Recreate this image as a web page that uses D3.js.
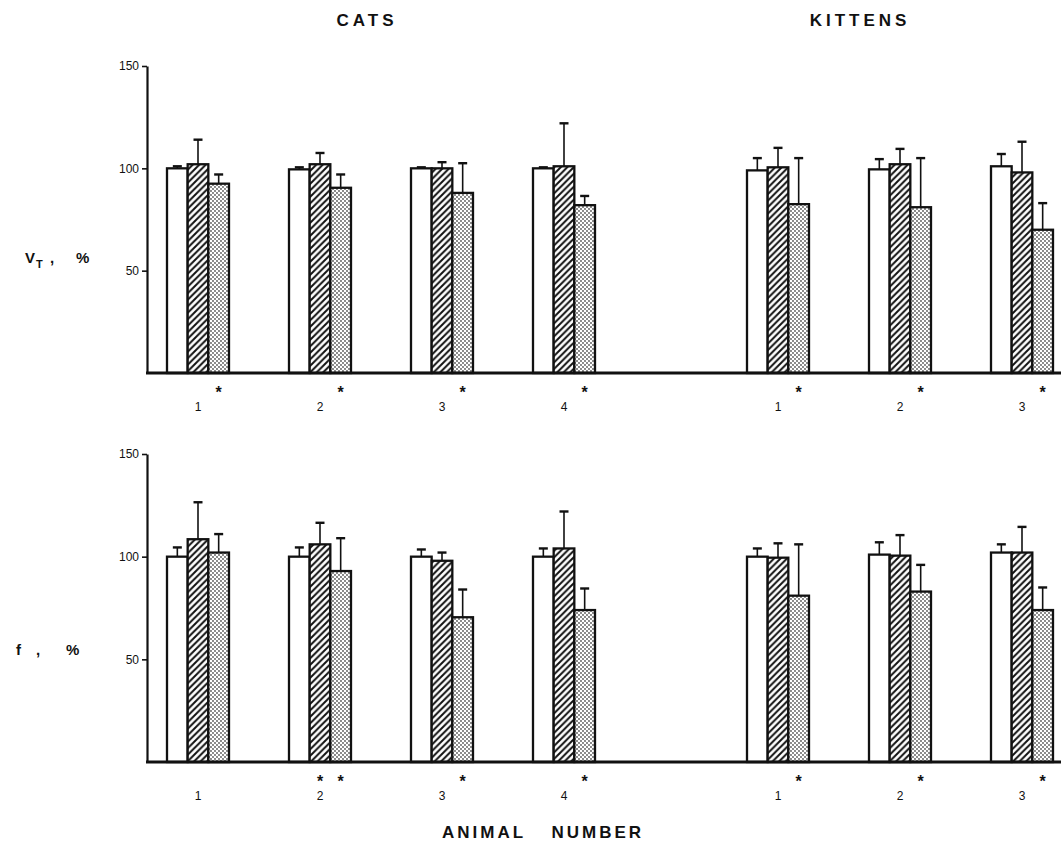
<!DOCTYPE html>
<html>
<head>
<meta charset="utf-8">
<script src="https://cdn.jsdelivr.net/npm/d3@7"></script>
<style>
  html, body { margin: 0; padding: 0; background: #fff; }
  svg { display: block; }
  text { font-family: "Liberation Sans", Arial, sans-serif; fill: #111; }
</style>
</head>
<body>
<svg id="chart" width="1061" height="868"></svg>
<script>
// ---------- data ----------
const catIds = ["1", "2", "3", "4"];
const kittenIds = ["1", "2", "3"];
const seriesKeys = ["control", "hatched", "dotted"];
const yTicks = [50, 100, 150];

// VT, % : mean values per animal [control, hatched, dotted]
const vtCatsMean = [[100, 102, 92.5], [99.5, 102, 90.5], [100, 100, 88], [100, 101, 82]];
const vtCatsErr  = [[1, 12, 4.5], [1, 5.5, 6.5], [0.5, 3, 14.5], [0.5, 21, 4.5]];
const vtKitMean  = [[99, 100.5, 82.5], [99.5, 102, 81], [101, 98, 70]];
const vtKitErr   = [[6, 9.5, 22.5], [5, 7.5, 24], [6, 15, 13]];
const vtCatsSig  = [[0, 0, 1], [0, 0, 1], [0, 0, 1], [0, 0, 1]];
const vtKitSig   = [[0, 0, 1], [0, 0, 1], [0, 0, 1]];

// f, %
const fCatsMean = [[100, 108.5, 102], [100, 106, 93], [100, 98, 70.5], [100, 104, 74]];
const fCatsErr  = [[4.5, 18, 9], [4.5, 10.5, 16], [3.5, 4, 13.5], [4, 18, 10.5]];
const fKitMean  = [[100, 99.5, 81], [101, 100.5, 83], [102, 102, 74]];
const fKitErr   = [[4, 7, 25], [6, 10, 13], [4, 12.5, 11]];
const fCatsSig  = [[0, 0, 0], [0, 1, 1], [0, 0, 1], [0, 0, 1]];
const fKitSig   = [[0, 0, 1], [0, 0, 1], [0, 0, 1]];

// ---------- setup ----------
const svg = d3.select("#chart");
const defs = svg.append("defs");

const hatch = defs.append("pattern").attr("id", "hatch")
  .attr("patternUnits", "userSpaceOnUse").attr("width", 6.5).attr("height", 6.5);
hatch.append("rect").attr("width", 6.5).attr("height", 6.5).attr("fill", "#fff");
hatch.append("path").attr("d", "M-1,1 L1,-1 M0,6.5 L6.5,0 M5.5,7.5 L7.5,5.5")
  .attr("stroke", "#111").attr("stroke-width", 2);

const dots = defs.append("pattern").attr("id", "dots")
  .attr("patternUnits", "userSpaceOnUse").attr("width", 4).attr("height", 4);
dots.append("rect").attr("width", 4).attr("height", 4).attr("fill", "#fff");
dots.append("circle").attr("cx", 1).attr("cy", 1).attr("r", 0.9).attr("fill", "#555");
dots.append("circle").attr("cx", 3).attr("cy", 3).attr("r", 0.9).attr("fill", "#555");

const fills = { control: "#fff", hatched: "url(#hatch)", dotted: "url(#dots)" };

const xCats = d3.scaleBand().domain(catIds).range([137, 625]);
const xKit = d3.scaleBand().domain(kittenIds).range([717, 1083]);
const xInner = d3.scaleBand().domain(seriesKeys).range([-31, 31]);

const axisX = 147;

function drawPanel(y0, y150, sets) {
  const y = d3.scaleLinear().domain([0, 150]).range([y0, y150]);
  const g = svg.append("g");

  // y axis
  const ya = g.append("g").attr("transform", `translate(${axisX},0)`)
    .call(d3.axisLeft(y).tickValues(yTicks).tickSize(5).tickSizeOuter(0).tickPadding(3));
  ya.select(".domain").attr("stroke", "#111").attr("stroke-width", 2.2);
  ya.selectAll(".tick line").attr("stroke", "#111").attr("stroke-width", 1.6);
  ya.selectAll(".tick text").attr("font-size", 12).attr("fill", "#222")
    .attr("font-family", "Liberation Sans, Arial, sans-serif");

  sets.forEach(({ x, ids, mean, err, sig }) => {
    ids.forEach((id, i) => {
      const cx = x(id) + x.bandwidth() / 2;
      seriesKeys.forEach((s, j) => {
        const v = mean[i][j], e = err[i][j];
        const bx = cx + xInner(s);
        const bw = xInner.bandwidth();
        const mid = bx + bw / 2;
        // error bar
        g.append("line").attr("x1", mid).attr("x2", mid)
          .attr("y1", y(v)).attr("y2", y(v + e))
          .attr("stroke", "#111").attr("stroke-width", 1.6);
        g.append("line").attr("x1", mid - 4.5).attr("x2", mid + 4.5)
          .attr("y1", y(v + e)).attr("y2", y(v + e))
          .attr("stroke", "#111").attr("stroke-width", 2.4);
        // bar
        g.append("rect").attr("x", bx).attr("width", bw)
          .attr("y", y(v)).attr("height", y(0) - y(v))
          .attr("fill", fills[s]).attr("stroke", "#111").attr("stroke-width", 2.3);
        if (sig[i][j]) {
          g.append("text").attr("x", mid).attr("y", y(0) + 25)
            .attr("text-anchor", "middle").attr("font-size", 16).attr("font-weight", "bold")
            .text("*");
        }
      });
    });
    // category labels
    const xa = g.append("g").attr("transform", `translate(0,${y(0)})`)
      .call(d3.axisBottom(x).tickSize(0).tickPadding(29));
    xa.select(".domain").remove();
    xa.selectAll(".tick text").attr("font-size", 12).attr("fill", "#222")
      .attr("font-family", "Liberation Sans, Arial, sans-serif");
  });

  // baseline
  g.append("line").attr("x1", axisX - 1).attr("x2", 1061)
    .attr("y1", y(0)).attr("y2", y(0))
    .attr("stroke", "#111").attr("stroke-width", 2.8);
}

drawPanel(373, 66, [
  { x: xCats, ids: catIds, mean: vtCatsMean, err: vtCatsErr, sig: vtCatsSig },
  { x: xKit, ids: kittenIds, mean: vtKitMean, err: vtKitErr, sig: vtKitSig }
]);
drawPanel(762, 454, [
  { x: xCats, ids: catIds, mean: fCatsMean, err: fCatsErr, sig: fCatsSig },
  { x: xKit, ids: kittenIds, mean: fKitMean, err: fKitErr, sig: fKitSig }
]);

// ---------- titles & labels ----------
svg.append("text").attr("x", 367).attr("y", 26).attr("text-anchor", "middle")
  .attr("font-size", 17).attr("font-weight", "bold").attr("letter-spacing", 4).text("CATS");
svg.append("text").attr("x", 860).attr("y", 26).attr("text-anchor", "middle")
  .attr("font-size", 17).attr("font-weight", "bold").attr("letter-spacing", 4).text("KITTENS");
svg.append("text").attr("x", 543).attr("y", 838).attr("text-anchor", "middle")
  .attr("font-size", 17).attr("font-weight", "bold").attr("letter-spacing", 3).attr("word-spacing", 18).text("ANIMAL NUMBER");

const vt = svg.append("text").attr("y", 263).attr("font-size", 15).attr("font-weight", "bold");
vt.append("tspan").attr("x", 25).text("V");
vt.append("tspan").attr("x", 36).attr("dy", 5).attr("font-size", 11).text("T");
vt.append("tspan").attr("x", 50).attr("dy", -5).text(",");
vt.append("tspan").attr("x", 76).text("%");

const fl = svg.append("text").attr("y", 655).attr("font-size", 15).attr("font-weight", "bold");
fl.append("tspan").attr("x", 16).text("f");
fl.append("tspan").attr("x", 36).text(",");
fl.append("tspan").attr("x", 66).text("%");
</script>
</body>
</html>
